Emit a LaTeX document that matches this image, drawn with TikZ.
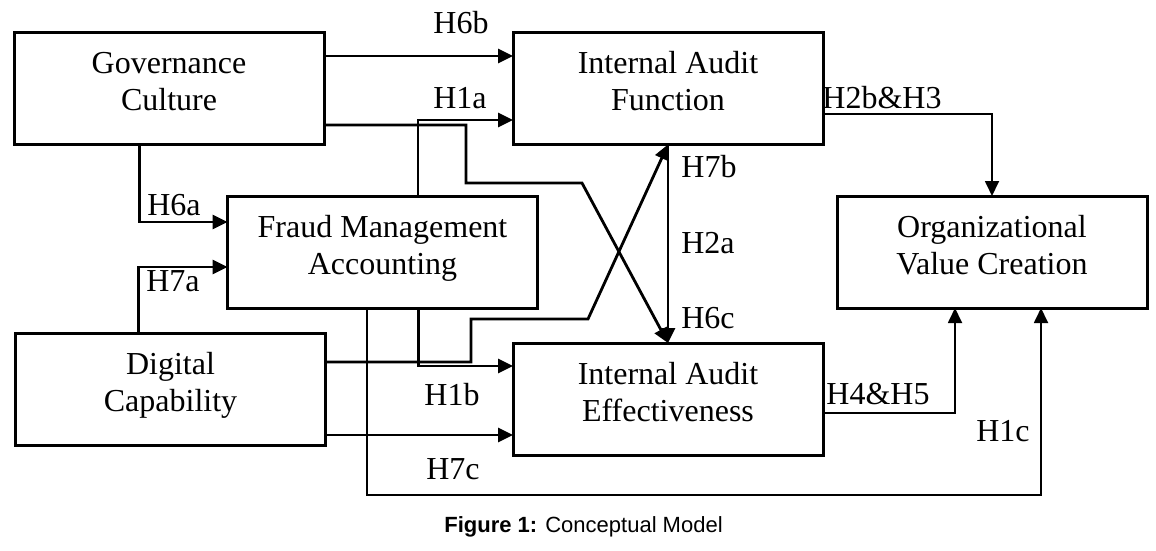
\documentclass[tikz,border=0pt]{standalone}
\usepackage{fontspec}
\setmainfont{Liberation Serif}
\setsansfont{Liberation Sans}
\usepackage{tikz}
\usetikzlibrary{arrows.meta, positioning}
\tikzset{
	boxnode/.style={
			shape=rectangle,
			draw=black,
			line width=1.5pt,
			minimum width=155pt,
			minimum height=56pt,
			inner sep=0pt,
			outer sep=0pt,
			align=center,
			text depth=7.5pt,
			font=\fontsize{16pt}{18.5pt}\selectfont
		}
}
\tikzset{
	hyplabel/.style={
			inner sep=0pt,
			font=\fontsize{16pt}{18.5pt}\selectfont
		},
	captiontext/.style={
			inner sep=0pt,
			font=\sffamily\fontsize{11pt}{13pt}\selectfont
		}
}
\tikzset{
	boldline/.style={->, line width=1.4pt},
	thinline/.style={->, line width=0.9pt}
}

\begin{document}
\begin{tikzpicture}[x=0.5pt, y=-0.5pt, >={Triangle[length=7.5pt, width=7pt]}]

              \useasboundingbox (0,0) rectangle (1156,551);

              \node[boxnode] (gc) at (169,88.5) {Governance\\Culture};
              \node[boxnode] (iaf) at (668,88.5) {Internal Audit\\Function};
              \node[boxnode] (fma) at (382.5,252) {Fraud Management\\Accounting};
              \node[boxnode] (dc) at (170.5,389.5) {Digital\\Capability};
              \node[boxnode] (iae) at (668,399) {Internal Audit\\Effectiveness};
              \node[boxnode] (ovc) at (992,252) {Organizational\\Value Creation};

              \node[hyplabel] (h6b) at (461,23) {H6b};
              \node[hyplabel] (h1a) at (460,98) {H1a};
              \node[hyplabel] (h6a) at (174,205) {H6a};
              \node[hyplabel] (h7a) at (173,281) {H7a};
              \node[hyplabel] (h1b) at (452,395) {H1b};
              \node[hyplabel] (h7c) at (453,469) {H7c};
              \node[hyplabel] (h7b) at (709,167) {H7b};
              \node[hyplabel] (h2a) at (708,243) {H2a};
              \node[hyplabel] (h6c) at (708,318) {H6c};
              \node[hyplabel] (h2b) at (882,98) {H2b\&H3};
              \node[hyplabel] (h4) at (878,394) {H4\&H5};
              \node[hyplabel] (h1c) at (1003,431) {H1c};

              \draw[boldline] ([yshift=-11.75pt]gc.north east) -- ([yshift=-11.75pt]iaf.north west);
              \draw[boldline] ([xshift=95.25pt]fma.north west) |- ([yshift=-15.75pt]iaf.west);
              \draw[boldline] ([yshift=-18.25pt]gc.east) -| (466,183) -- (582,183) -- (iae.north);
              \draw[boldline] ([yshift=13.75pt]dc.east) -| (471,319) -- (588,319) -- (iaf.south);
              \draw[boldline] (iaf.south) -- (iae.north);
              \draw[boldline] ([xshift=-14.75pt]gc.south) |- ([yshift=15pt]fma.west);
              \draw[boldline] ([xshift=-16pt]dc.north) |- ([yshift=-7.5pt]fma.west);
              \draw[boldline] ([xshift=18pt]fma.south) |- ([yshift=16.5pt]iae.west);
              \draw[boldline] ([yshift=-22.75pt]dc.east) -- ([yshift=-18pt]iae.west);
              \draw[thinline] ([xshift=-7.75pt]fma.south) |- (1041,495) -- ([xshift=24.5pt]ovc.south);
              \draw[thinline] ([yshift=-7pt]iae.east) -| ([xshift=-18.5pt]ovc.south);
              \draw[thinline] ([yshift=-12.75pt]iaf.east) -| (ovc.north);

              \node[captiontext] (cap) at (583.5,527) {\textbf{Figure 1:} Conceptual Model};

            \end{tikzpicture}
\end{document}
